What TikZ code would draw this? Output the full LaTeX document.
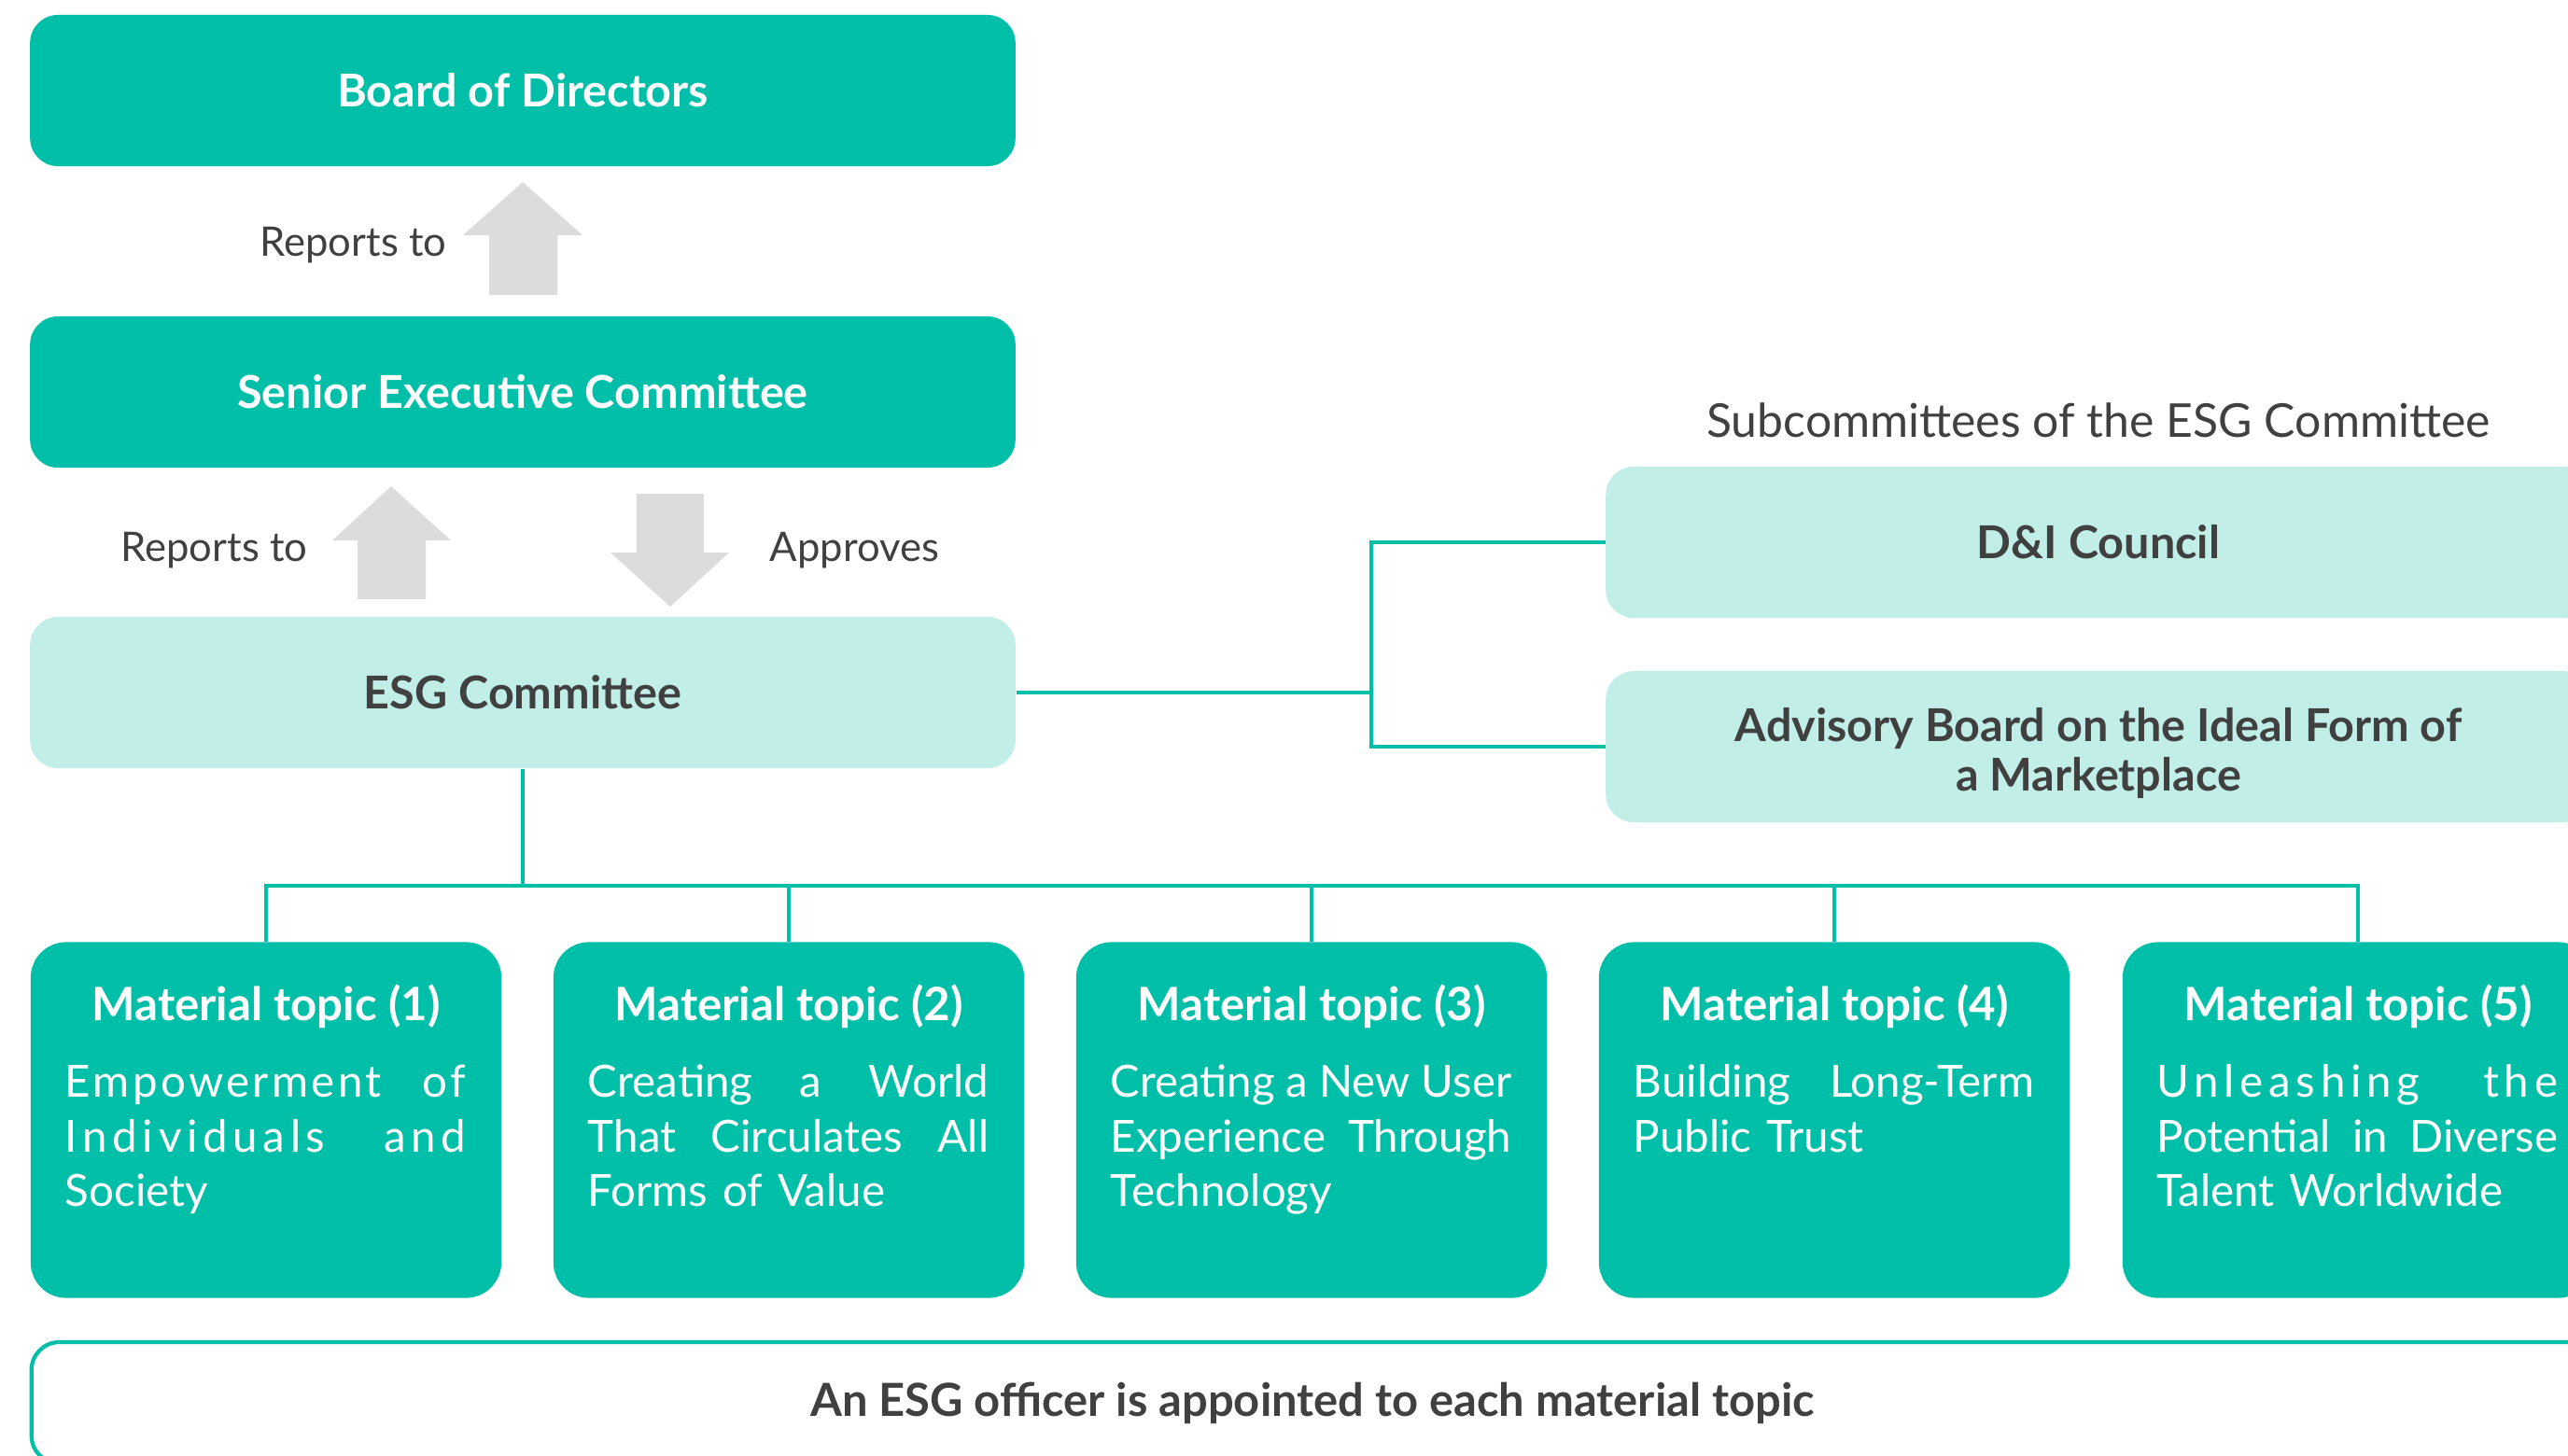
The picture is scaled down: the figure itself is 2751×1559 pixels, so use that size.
\documentclass[tikz,border=0pt]{standalone}
\usepackage{fontspec}
\usepackage{graphicx}
\setmainfont{Lato}
\usetikzlibrary{calc}
\definecolor{teal1}{HTML}{00BFA8}
\definecolor{lteal}{HTML}{C2EEE8}
\definecolor{agray}{HTML}{DCDCDC}
\definecolor{dtext}{HTML}{404040}
\newlength\jwidth
\setlength\jwidth{4.29cm}
\newcommand\jline[2][0]{\leavevmode{\addfontfeature{LetterSpace=#1}\spaceskip=0pt\xspaceskip=0pt\setbox0\hbox{#2}\ifdim\wd0>\jwidth\resizebox{\jwidth}{\height}{#2}\else\hbox to \jwidth{#2}\fi}}
\begin{document}
\begin{tikzpicture}[x=0.01cm,y=-0.01cm,
  darkbox/.style={fill=teal1,rounded corners=0.3cm,minimum width=10.55cm,minimum height=1.62cm,inner sep=0pt,text=white,font=\fontsize{13.8}{15}\selectfont\bfseries},
  lightbox/.style={darkbox,fill=lteal,text=dtext},
  topicbox/.style={fill=teal1,rounded corners=0.38cm,minimum width=5.04cm,minimum height=3.81cm,inner sep=0pt},
  topictitle/.style={text=white,inner sep=0pt,font=\fontsize{14}{16}\selectfont\bfseries},
  topicbody/.style={text=white,inner sep=0pt,anchor=base west,text width=4.29cm,align=left,font=\fontsize{13.5}{16.6}\selectfont},
  link/.style={draw=teal1,line width=1.1pt},
  lbl/.style={text=dtext,inner sep=0pt,font=\fontsize{12.4}{14}\selectfont},
  blockarrow/.style={fill=agray},
  officerbox/.style={draw=teal1,line width=1.2pt,fill=white,rounded corners=0.3cm,minimum width=27.43cm,minimum height=1.3cm,inner sep=0pt,text=dtext,font=\fontsize{13.9}{16}\selectfont\bfseries},
]
\useasboundingbox (0,0) rectangle (2751,1559);
\clip (0,0) rectangle (2751,1559);

% main column
\node[darkbox] (board) at (560,97) {Board of Directors};
\node[darkbox] (senior) at (560,420) {Senior Executive Committee};
\node[lightbox] (esg) at (560,742) {ESG Committee};

% block arrows
\fill[blockarrow] (560,195) -- (624,252) -- (597,252) -- (597,316) -- (524,316) -- (524,252) -- (496,252) -- cycle;
\node[lbl,anchor=east] (rep1) at (479,263) {Reports to};
\fill[blockarrow] (419,521) -- (483,579) -- (456,579) -- (456,642) -- (383,642) -- (383,579) -- (356,579) -- cycle;
\node[lbl,anchor=east] (rep2) at (330,590) {Reports to};
\fill[blockarrow] (682,529) -- (754,529) -- (754,592) -- (781,592) -- (718,650) -- (654,592) -- (682,592) -- cycle;
\node[lbl,anchor=west] (appr) at (824,590) {Approves};

% subcommittees
\node[lbl,font=\fontsize{14.2}{16}\selectfont] (subt) at (2248,450) {Subcommittees of the ESG Committee};
\node[lightbox] (dni) at (2248,581) {D\&I Council};
\node[lightbox] (adv) at (2248,800) {};
\node[text=dtext,align=center,inner sep=0pt,font=\fontsize{13.8}{15}\selectfont\bfseries] (advtext) at (2248,807) {Advisory Board on the Ideal Form of\\a Marketplace};

\coordinate (jn) at (1469,742);
\draw[link] (esg.east) -- (jn);
\draw[link] (dni.west) -- (jn |- dni.west) -- (jn |- adv.west) -- (adv.west);

% material topics
\foreach \i/\x in {1/285,2/845,3/1405,4/1965,5/2526}{
  \node[topicbox] (t\i) at (\x,1200) {};
  \node[topictitle] (tt\i) at ($(t\i.north)+(0,70)$) {Material topic (\i)};
}
\node[topicbody] (b1) at ($(t1.north west)+(37,167)$) {\jline[7]{Empowerment of}\\\jline[12]{Individuals and}\\Society};
\node[topicbody] (b2) at ($(t2.north west)+(37,167)$) {\jline{Creating a World}\\\jline{That Circulates All}\\Forms of Value};
\node[topicbody] (b3) at ($(t3.north west)+(37,167)$) {\jline{Creating a New User}\\\jline{Experience Through}\\Technology};
\node[topicbody] (b4) at ($(t4.north west)+(37,167)$) {\jline{Building Long-Term}\\Public Trust};
\node[topicbody] (b5) at ($(t5.north west)+(37,167)$) {\jline[12]{Unleashing the}\\\jline{Potential in Diverse}\\Talent Worldwide};

\coordinate (bus) at (560,949);
\draw[link] (esg.south) -- (bus);
\draw[link] (t1.north) -- (t1.north |- bus) -- (t5.north |- bus) -- (t5.north);
\foreach \i in {2,3,4}{\draw[link] (t\i.north) -- (t\i.north |- bus);}

% officer box
\node[officerbox] (officer) at (1406,1503) {An ESG officer is appointed to each material topic};
\end{tikzpicture}
\end{document}
